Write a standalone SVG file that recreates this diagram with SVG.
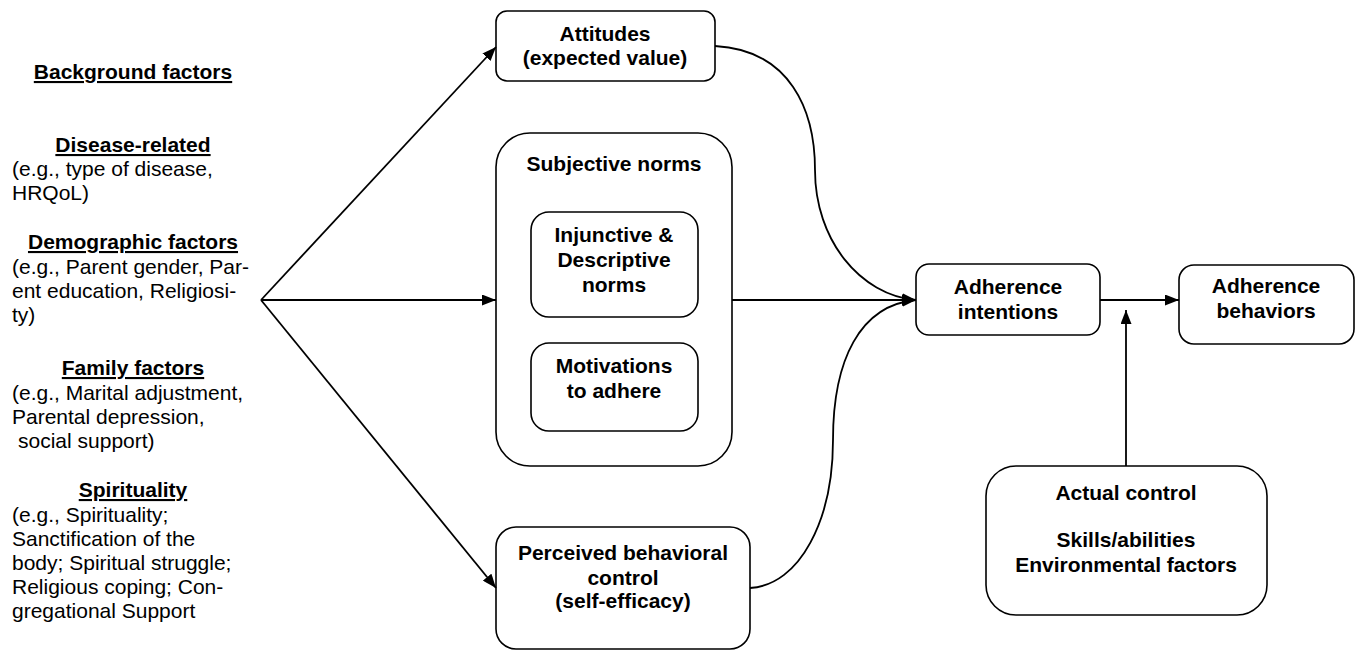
<svg xmlns="http://www.w3.org/2000/svg" width="1362" height="652" viewBox="0 0 1362 652">
<style>
.bx{fill:#fff;stroke:#000;stroke-width:1.6}
.t{font-family:"Liberation Sans",Arial,sans-serif;font-size:21px;fill:#000}
.b{font-weight:bold}
.c{text-anchor:middle}
.h{font-weight:bold;text-anchor:middle;text-decoration:underline}
.ln{fill:none;stroke:#000;stroke-width:1.8}
</style>
<defs>
<marker id="arr" viewBox="0 0 14 11" refX="14" refY="5.5" markerWidth="14" markerHeight="11" orient="auto" markerUnits="userSpaceOnUse"><path d="M0,0 L14,5.5 L0,11 z" fill="#000"/></marker>
</defs>
<g id="background">
<text class="t h" x="133" y="79">Background factors</text>
<text class="t h" x="133" y="152">Disease-related</text>
<text class="t" x="12" y="176">(e.g., type of disease,</text>
<text class="t" x="12" y="200">HRQoL)</text>
<text class="t h" x="133" y="249">Demographic factors</text>
<text class="t" x="12" y="274">(e.g., Parent gender, Par-</text>
<text class="t" x="12" y="298">ent education, Religiosi-</text>
<text class="t" x="12" y="322">ty)</text>
<text class="t h" x="133" y="375">Family factors</text>
<text class="t" x="12" y="400">(e.g., Marital adjustment,</text>
<text class="t" x="12" y="424">Parental depression,</text>
<text class="t" x="18" y="448">social support)</text>
<text class="t h" x="133" y="497">Spirituality</text>
<text class="t" x="12" y="522">(e.g., Spirituality;</text>
<text class="t" x="12" y="546">Sanctification of the</text>
<text class="t" x="12" y="570">body; Spiritual struggle;</text>
<text class="t" x="12" y="594">Religious coping; Con-</text>
<text class="t" x="12" y="618">gregational Support</text>
</g>
<g id="attitudes">
<rect class="bx" x="496" y="11" width="219" height="70" rx="11"/>
<text class="t b c" x="605" y="41">Attitudes</text>
<text class="t b c" x="605" y="65">(expected value)</text>
</g>
<g id="subjective-norms">
<rect class="bx" x="496" y="133" width="236" height="333" rx="34"/>
<text class="t b c" x="614" y="171">Subjective norms</text>
</g>
<g id="injunctive">
<rect class="bx" x="531" y="212" width="167" height="105" rx="18"/>
<text class="t b c" x="614" y="242">Injunctive &amp;</text>
<text class="t b c" x="614" y="267">Descriptive</text>
<text class="t b c" x="614" y="292">norms</text>
</g>
<g id="motivations">
<rect class="bx" x="531" y="343" width="167" height="88" rx="18"/>
<text class="t b c" x="614" y="373">Motivations</text>
<text class="t b c" x="614" y="398">to adhere</text>
</g>
<g id="perceived-control">
<rect class="bx" x="496" y="527" width="254" height="122" rx="20"/>
<text class="t b c" x="623" y="560">Perceived behavioral</text>
<text class="t b c" x="623" y="585">control</text>
<text class="t b c" x="623" y="608">(self-efficacy)</text>
</g>
<g id="adherence-intentions">
<rect class="bx" x="916" y="264" width="184" height="71" rx="13"/>
<text class="t b c" x="1008" y="294">Adherence</text>
<text class="t b c" x="1008" y="319">intentions</text>
</g>
<g id="adherence-behaviors">
<rect class="bx" x="1179" y="265" width="175" height="79" rx="15"/>
<text class="t b c" x="1266" y="293">Adherence</text>
<text class="t b c" x="1266" y="318">behaviors</text>
</g>
<g id="actual-control">
<rect class="bx" x="986" y="466" width="281" height="149" rx="30"/>
<text class="t b c" x="1126" y="500">Actual control</text>
<text class="t b c" x="1126" y="547">Skills/abilities</text>
<text class="t b c" x="1126" y="572">Environmental factors</text>
</g>
<g id="connectors">
<path class="ln" d="M261,300 L496,47" marker-end="url(#arr)"/>
<path class="ln" d="M261,300 L496,300" marker-end="url(#arr)"/>
<path class="ln" d="M261,300 L496,588" marker-end="url(#arr)"/>
<path class="ln" d="M715,46 C790,50 815,110 815,170 C815,240 860,295 916,300" marker-end="url(#arr)"/>
<path class="ln" d="M732,300 L916,300" marker-end="url(#arr)"/>
<path class="ln" d="M750,588 C800,585 833,520 833,440 C833,360 860,305 916,300" marker-end="url(#arr)"/>
<path class="ln" d="M1100,300 L1179,300" marker-end="url(#arr)"/>
<path class="ln" d="M1126,466 L1126,310" marker-end="url(#arr)"/>
</g>
</svg>
